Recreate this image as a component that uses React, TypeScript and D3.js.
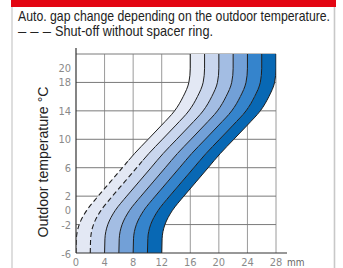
import * as d3 from 'd3'
import { useEffect, useRef } from 'react'

// gap (mm) where each curve starts, at -6 °C
const gapAtMin = [0, 2, 4, 6, 8, 10, 12]
// common curve shape: temperature (°C) -> added gap (mm)
const profileTemp = [-6, -4, -2, 0, 2, 4, 6, 8, 10, 12, 14, 16, 18, 20, 22]
const profileGap = [0, 0.05, 0.45, 1.5, 3.1, 4.8, 6.5, 8.2, 10.1, 12, 13.8, 15.0, 15.8, 16, 16]
const dashedCurves = [0, 1]
const bandColors = ['#e3e8f4', '#c9d6ee', '#a3bde3', '#72a0d7', '#3584cc', '#0868b4']

const yTickLabels = [20, 18, 14, 10, 6, 2, 0, -2, -6]
const yGridLines = [-2, 2, 6, 10, 14, 18, 22]
const xTickLabels = [0, 4, 8, 12, 16, 20, 24, 28]

const App = () => {
  const ref = useRef<HTMLDivElement>(null)

  useEffect(() => {
    if (!ref.current) return
    d3.select(ref.current).select('svg').remove()

    const W = 343
    const H = 268
    const svg = d3
      .select(ref.current)
      .append('svg')
      .attr('width', W)
      .attr('height', H)
      .style('position', 'absolute')
      .style('left', 0)
      .style('top', 0)
      .style('font-family', "'Liberation Sans', Arial, sans-serif")

    // frame
    svg.append('rect').attr('x', 0).attr('y', 0).attr('width', W).attr('height', H).attr('fill', '#fff')
    svg.append('line').attr('x1', 12).attr('x2', 12).attr('y1', 0).attr('y2', H).attr('stroke', '#c8c8c8').attr('stroke-width', 1.2)
    svg.append('line').attr('x1', 334.5).attr('x2', 334.5).attr('y1', 0).attr('y2', H).attr('stroke', '#c8c8c8').attr('stroke-width', 1.6)
    svg.append('rect').attr('x', 11).attr('y', 0).attr('width', 325).attr('height', 7).attr('fill', '#e30613')

    // header: narrow lettering, stretched vertically
    const header = (tx: number, ty: number, len: number, s: string) =>
      svg.append('text')
        .attr('transform', `translate(${tx},${ty}) scale(1,1.2)`)
        .attr('font-size', 12).attr('fill', '#222')
        .attr('textLength', len).attr('lengthAdjust', 'spacingAndGlyphs')
        .text(s)
    header(18, 20.5, 312, 'Auto. gap change depending on the outdoor temperature.')
    header(18, 35.5, 33, '– – –')
    header(55, 35.5, 158, 'Shut-off without spacer ring.')

    const x = d3.scaleLinear().domain([0, 28]).range([76, 276])
    const y = d3.scaleLinear().domain([-6, 22]).range([253, 54])

    const defs = svg.append('defs')
    defs.append('clipPath').attr('id', 'plot').append('rect')
      .attr('x', x(0)).attr('y', y(22)).attr('width', x(28) - x(0)).attr('height', y(-6) - y(22))
    const splitT = 7
    defs.append('clipPath').attr('id', 'upper').append('rect')
      .attr('x', x(0)).attr('y', y(22)).attr('width', x(28) - x(0)).attr('height', y(splitT) - y(22))
    defs.append('clipPath').attr('id', 'lower').append('rect')
      .attr('x', x(0)).attr('y', y(splitT)).attr('width', x(28) - x(0)).attr('height', y(-6) - y(splitT))

    // grid
    const grid = svg.append('g')
    grid.selectAll('.v').data(xTickLabels.slice(1)).enter().append('line')
      .attr('x1', (d) => x(d)).attr('x2', (d) => x(d)).attr('y1', y(22)).attr('y2', y(-6))
      .attr('stroke', '#9a9a9a').attr('stroke-width', 1)
    grid.selectAll('.h').data(yGridLines).enter().append('line')
      .attr('x1', x(0)).attr('x2', x(28)).attr('y1', (d) => y(d)).attr('y2', (d) => y(d))
      .attr('stroke', '#7a7a7a').attr('stroke-width', 1)

    const curvePts = (k: number) => profileTemp.map((t, i) => ({ t, g: gapAtMin[k] + profileGap[i] }))

    const plot = svg.append('g').attr('clip-path', 'url(#plot)')

    // bands
    bandColors.forEach((c, k) => {
      const a = curvePts(k)
      const b = curvePts(k + 1)
      const band = a.map((d, i) => ({ t: d.t, g0: d.g, g1: b[i].g }))
      plot.append('path')
        .datum(band)
        .attr('d', d3.area<any>().curve(d3.curveMonotoneY).y((d) => y(d.t)).x0((d) => x(d.g0)).x1((d) => x(d.g1)))
        .attr('fill', c)
    })

    // curve lines
    const line = d3.line<any>().curve(d3.curveMonotoneY).x((d) => x(d.g)).y((d) => y(d.t))
    gapAtMin.forEach((_, k) => {
      if (dashedCurves.includes(k)) {
        plot.append('path').datum(curvePts(k)).attr('d', line).attr('clip-path', 'url(#upper)')
          .attr('fill', 'none').attr('stroke', '#1e1e1e').attr('stroke-width', 1)
        plot.append('path').datum(curvePts(k)).attr('d', line).attr('clip-path', 'url(#lower)')
          .attr('fill', 'none').attr('stroke', '#1e1e1e').attr('stroke-width', 1.1).attr('stroke-dasharray', '5,3')
      } else {
        plot.append('path').datum(curvePts(k)).attr('d', line)
          .attr('fill', 'none').attr('stroke', '#1e1e1e').attr('stroke-width', 1)
      }
    })

    // axes
    svg.append('line').attr('x1', x(0)).attr('x2', x(0)).attr('y1', 48).attr('y2', y(-6))
      .attr('stroke', '#333').attr('stroke-width', 1.2)
    svg.append('line').attr('x1', x(0)).attr('x2', 287).attr('y1', y(-6)).attr('y2', y(-6))
      .attr('stroke', '#333').attr('stroke-width', 1.2)

    svg.selectAll('.yl').data(yTickLabels).enter().append('text')
      .attr('x', 71).attr('y', (d) => y(d) + (d === -6 ? 5 : 4))
      .attr('text-anchor', 'end').attr('font-size', 11).attr('fill', '#8a8a8a')
      .style('font-family', "'DejaVu Sans Condensed', sans-serif")
      .text((d) => `${d}`)
    svg.selectAll('.xl').data(xTickLabels).enter().append('text')
      .attr('x', (d) => x(d)).attr('y', 266)
      .attr('text-anchor', 'middle').attr('font-size', 11).attr('fill', '#8a8a8a')
      .style('font-family', "'DejaVu Sans Condensed', sans-serif")
      .text((d) => `${d}`)
    svg.append('text').attr('x', 287).attr('y', 266).attr('font-size', 10).attr('fill', '#666')
      .style('font-family', "'DejaVu Sans Condensed', sans-serif")
      .text('mm')

    svg.append('text')
      .attr('transform', 'translate(47.5,162) rotate(-90)')
      .attr('text-anchor', 'middle').attr('font-size', 15.5).attr('fill', '#222')
      .attr('textLength', 151).attr('lengthAdjust', 'spacingAndGlyphs')
      .text('Outdoor temperature °C')
  }, [])

  return <div ref={ref} />
}

export default App
